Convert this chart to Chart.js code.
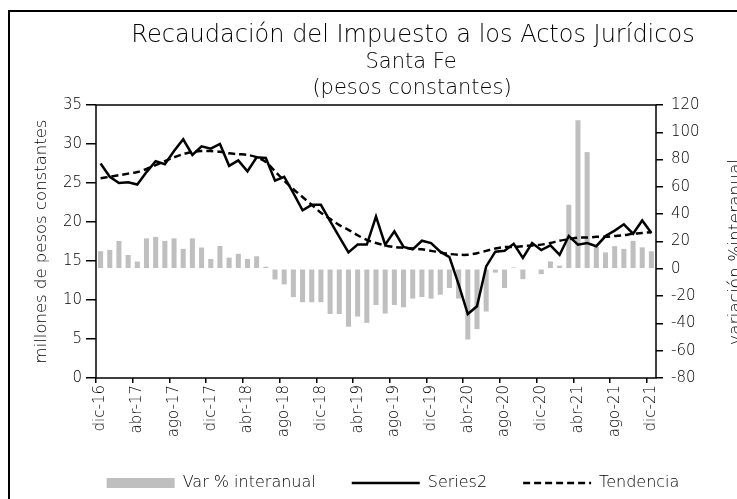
<!DOCTYPE html>
<html>
<head>
<meta charset="utf-8">
<script src="https://cdn.jsdelivr.net/npm/chart.js@4.4.1/dist/chart.umd.min.js"></script>
<style>
  html, body { margin: 0; padding: 0; width: 737px; height: 499px; overflow: hidden; background: #fff; }
  #frame { position: absolute; left: 8px; top: 10px; width: 900px; height: 700px; border: 2.5px solid #000; box-sizing: border-box; }
  #chart { position: absolute; left: 0; top: 0; }
</style>
</head>
<body>
<div id="frame"></div>
<canvas id="chart" width="786" height="501"></canvas>
<script>
const meses = [
  'dic-16', 'ene-17', 'feb-17', 'mar-17', 'abr-17', 'may-17', 'jun-17', 'jul-17', 'ago-17', 'sep-17', 'oct-17', 'nov-17',
  'dic-17', 'ene-18', 'feb-18', 'mar-18', 'abr-18', 'may-18', 'jun-18', 'jul-18', 'ago-18', 'sep-18', 'oct-18', 'nov-18',
  'dic-18', 'ene-19', 'feb-19', 'mar-19', 'abr-19', 'may-19', 'jun-19', 'jul-19', 'ago-19', 'sep-19', 'oct-19', 'nov-19',
  'dic-19', 'ene-20', 'feb-20', 'mar-20', 'abr-20', 'may-20', 'jun-20', 'jul-20', 'ago-20', 'sep-20', 'oct-20', 'nov-20',
  'dic-20', 'ene-21', 'feb-21', 'mar-21', 'abr-21', 'may-21', 'jun-21', 'jul-21', 'ago-21', 'sep-21', 'oct-21', 'nov-21',
  'dic-21'
];

// recaudación mensual, millones de pesos constantes
const recaudacion = [
  27.5, 25.8, 25.0, 25.1, 24.8, 26.4, 27.8, 27.4, 29.1, 30.6,
  28.6, 29.7, 29.4, 30.0, 27.2, 27.9, 26.5, 28.3, 28.2, 25.3,
  25.8, 23.7, 21.5, 22.2, 22.2, 20.1, 18.1, 16.1, 17.1, 17.1,
  20.7, 17.1, 18.8, 16.8, 16.5, 17.6, 17.3, 16.2, 15.5, 12.0,
  8.2, 9.2, 14.3, 16.2, 16.3, 17.2, 15.4, 17.3, 16.4, 17.0,
  15.8, 18.2, 17.1, 17.3, 16.9, 18.2, 18.9, 19.7, 18.5, 20.2,
  18.6
];

const tendencia = [
  25.6, 25.8, 26.0, 26.2, 26.4, 26.8, 27.3, 27.8, 28.3, 28.7,
  29.0, 29.1, 29.1, 29.0, 28.8, 28.7, 28.6, 28.3, 27.7, 26.5,
  25.3, 24.2, 23.2, 22.2, 21.2, 20.4, 19.6, 19.0, 18.3, 17.7,
  17.3, 17.0, 16.8, 16.7, 16.6, 16.5, 16.3, 16.1, 15.9, 15.8,
  15.8, 16.0, 16.3, 16.6, 16.8, 16.8, 16.9, 17.0, 17.1, 17.3,
  17.6, 17.8, 18.0, 18.0, 18.1, 18.1, 18.2, 18.3, 18.5, 18.6,
  18.7
];

// variación % interanual
const varInteranual = [
  12.9, 13.9, 20.4, 10.1, 5.3, 22.3, 23.3, 20.4, 22.3, 14.6,
  22.3, 15.6, 7.2, 16.7, 8.2, 11.0, 7.2, 9.2, 1.5, -7.8,
  -11.4, -20.7, -24.5, -24.5, -24.5, -33.1, -33.1, -42.4, -35.0, -39.6,
  -26.5, -32.8, -26.5, -28.2, -21.8, -20.7, -21.8, -19.0, -14.1, -21.8,
  -51.8, -44.2, -31.3, -2.8, -14.1, 1.0, -7.6, 0.6, -3.9, 5.4,
  2.3, 46.9, 108.8, 85.5, 16.0, 12.0, 16.6, 14.6, 20.5, 15.7,
  12.8
];

const titulo = 'Recaudación del Impuesto a los Actos Jurídicos';
const subtitulo = ['Santa Fe', '(pesos constantes)'];
const tituloEjeIzq = 'millones de pesos constantes';
const tituloEjeDer = 'variación %interanual';

const FONT = '"DejaVu Sans", Lato, sans-serif';
const PESO = '200';
Chart.defaults.font.family = FONT;
Chart.defaults.font.weight = PESO;
Chart.defaults.color = '#000';

// titles, right axis caption and the box around the plot area
const decoracion = {
  id: 'decoracion',
  afterDraw(chart) {
    const { ctx, chartArea: a } = chart;
    ctx.save();
    ctx.strokeStyle = '#000';
    ctx.lineWidth = 1.5;
    ctx.strokeRect(a.left, a.top, a.right - a.left, a.bottom - a.top);

    ctx.fillStyle = '#000';
    ctx.textAlign = 'center';
    ctx.textBaseline = 'middle';
    ctx.font = `${PESO} 24px ${FONT}`;
    ctx.fillText(titulo, 413, 36);
    ctx.font = `${PESO} 21px ${FONT}`;
    ctx.fillText(subtitulo[0], 411, 63);
    ctx.fillText(subtitulo[1], 412, 89);

    ctx.translate(737, 252);
    ctx.rotate(-Math.PI / 2);
    ctx.font = `${PESO} 17px ${FONT}`;
    ctx.fillText(tituloEjeDer, 0, 0);
    ctx.restore();
  }
};

// line items in the legend take their dash and width from the dataset
const etiquetasLeyenda = chart =>
  Chart.defaults.plugins.legend.labels.generateLabels(chart).map(item => {
    const ds = chart.data.datasets[item.datasetIndex];
    if (ds.type === 'line') {
      item.lineDash = ds.borderDash || [];
      item.lineWidth = ds.borderWidth;
    } else {
      item.lineWidth = 0;
    }
    return item;
  });

new Chart(document.getElementById('chart'), {
  type: 'bar',
  data: {
    labels: meses,
    datasets: [
      {
        label: 'Var % interanual',
        data: varInteranual,
        yAxisID: 'y1',
        backgroundColor: '#BFBFBF',
        barPercentage: 0.55,
        categoryPercentage: 1,
        pointStyle: 'rect',
        order: 3
      },
      {
        type: 'line',
        label: 'Series2',
        data: recaudacion,
        yAxisID: 'y',
        borderColor: '#000',
        borderWidth: 2.5,
        pointRadius: 0,
        pointStyle: 'line',
        tension: 0,
        order: 1
      },
      {
        type: 'line',
        label: 'Tendencia',
        data: tendencia,
        yAxisID: 'y',
        borderColor: '#000',
        borderWidth: 2.5,
        borderDash: [7, 4],
        pointRadius: 0,
        pointStyle: 'line',
        tension: 0.3,
        order: 2
      }
    ]
  },
  options: {
    responsive: false,
    animation: false,
    events: [],
    layout: { padding: { top: 105, left: 0, right: 0, bottom: 0 } },
    plugins: {
      tooltip: { enabled: false },
      legend: {
        position: 'bottom',
        labels: {
          usePointStyle: true,
          pointStyleWidth: 68,
          boxHeight: 10,
          padding: 36,
          font: { size: 16 },
          generateLabels: etiquetasLeyenda,
          sort: (a, b) => a.datasetIndex - b.datasetIndex
        }
      }
    },
    scales: {
      x: {
        offset: true,
        afterFit: s => { s.height = 61; },
        grid: {
          offset: true,
          drawOnChartArea: false,
          tickLength: 5,
          lineWidth: 1.5,
          color: c => (c.index % 4 === 0 ? '#000' : 'rgba(0,0,0,0)')
        },
        border: { display: false },
        ticks: {
          autoSkip: false,
          minRotation: 90,
          maxRotation: 90,
          padding: 2,
          font: { size: 15 },
          callback: (v, i) => (i % 4 === 0 ? meses[i] : '')
        }
      },
      y: {
        position: 'left',
        min: 0,
        max: 35,
        afterFit: s => { s.width = 96; },
        ticks: { stepSize: 5, padding: 4, font: { size: 15 } },
        grid: { drawOnChartArea: false, tickLength: 10, lineWidth: 1.5, color: '#000' },
        border: { display: false },
        title: { display: true, text: tituloEjeIzq, font: { size: 16.5 }, padding: { top: 32 } }
      },
      y1: {
        position: 'right',
        min: -80,
        max: 120,
        afterFit: s => { s.width = 130; },
        ticks: { stepSize: 20, padding: 8, font: { size: 15 } },
        grid: { drawOnChartArea: false, tickLength: 7, lineWidth: 1.5, color: '#000' },
        border: { display: false }
      }
    }
  },
  plugins: [decoracion]
});
</script>
</body>
</html>
